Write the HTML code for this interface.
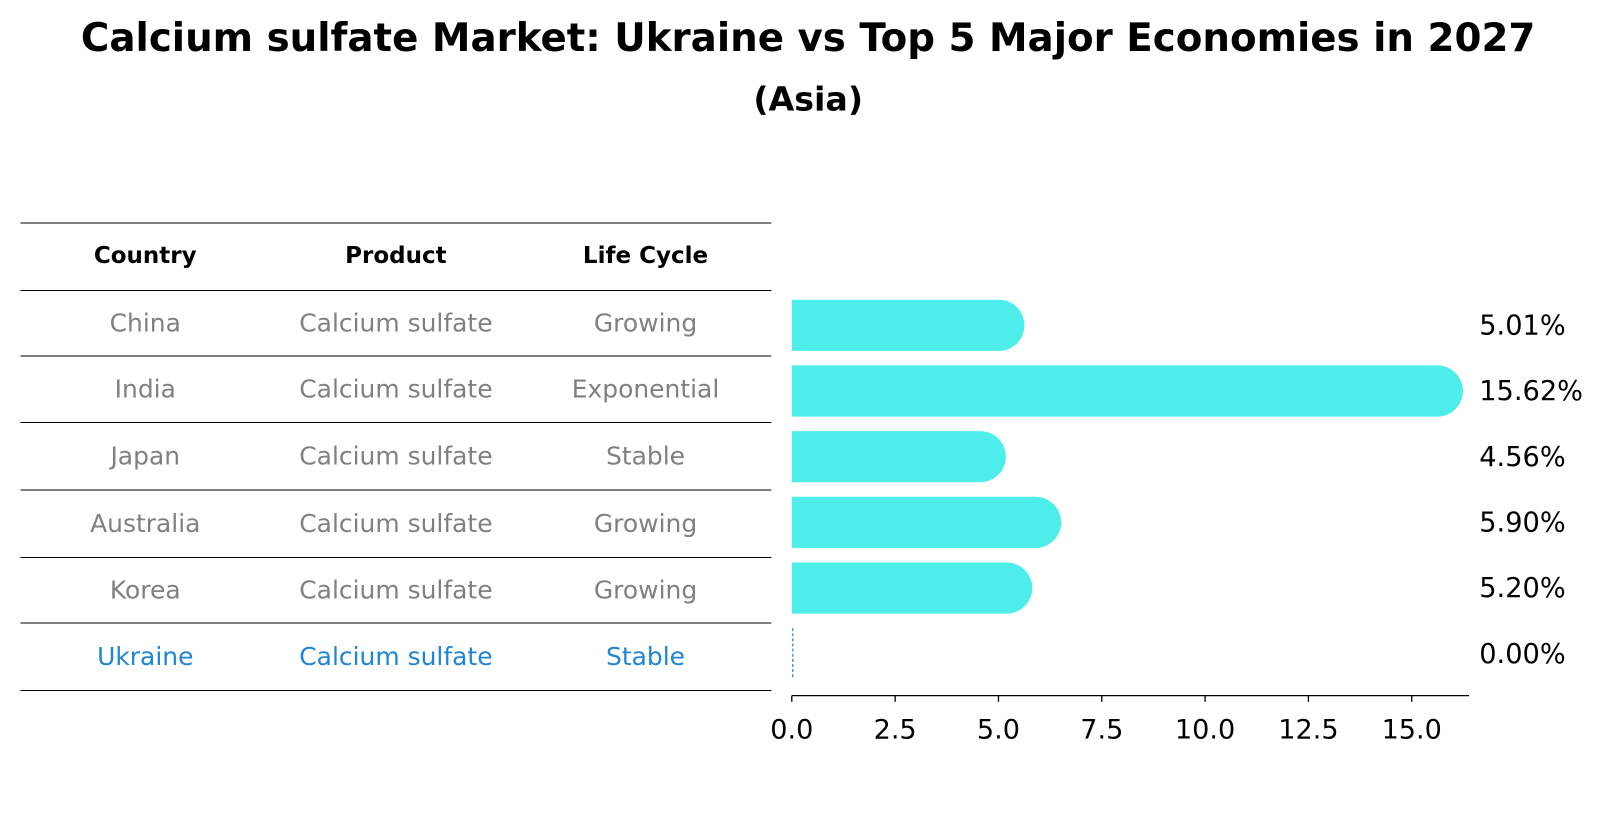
<!DOCTYPE html>
<html><head><meta charset="utf-8"><style>
body{margin:0;background:#fff;font-family:"DejaVu Sans","Liberation Sans",sans-serif}
</style></head><body>
<svg width="1604" height="823" xmlns="http://www.w3.org/2000/svg" font-family="DejaVu Sans, Liberation Sans, sans-serif">
<g id="root" transform="scale(1.023)">
<text x="790" y="50" text-anchor="middle" font-size="37.9" font-weight="bold">Calcium sulfate Market: Ukraine vs Top 5 Major Economies in 2027</text>
<text x="790" y="108" text-anchor="middle" font-size="32.5" font-weight="bold">(Asia)</text>
<g id="table"></g>
<g id="bars"></g>
</g>
</svg>
<script>
const countries=["China","India","Japan","Australia","Korea","Ukraine"];
const products=["Calcium sulfate","Calcium sulfate","Calcium sulfate","Calcium sulfate","Calcium sulfate","Calcium sulfate"];
const lifeCycles=["Growing","Exponential","Stable","Growing","Growing","Stable"];
const values=[5.01,15.62,4.56,5.90,5.20,0.00];
const xTicks=[0,2.5,5,7.5,10,12.5,15];
const NS="http://www.w3.org/2000/svg";
function mk(tag,attrs,parent,text){const e=document.createElementNS(NS,tag);for(const k in attrs)e.setAttribute(k,attrs[k]);if(text!==undefined)e.textContent=text;parent.appendChild(e);return e;}
const tbl=document.getElementById('table');
const lineYs=[218,284,348,413,479,545,609,675];
lineYs.forEach((y,i)=>{const l=mk('line',{x1:20,x2:754,y1:y,y2:y,stroke:'#000','stroke-width':1},tbl);

});
const colX=[142,387,631];
["Country","Product","Life Cycle"].forEach((h,i)=>{const t=mk('text',{x:colX[i],y:257,'text-anchor':'middle','font-size':22.5,'font-weight':'bold'},tbl,h);

});
countries.forEach((c,r)=>{const y=(lineYs[r+1]+lineYs[r+2])/2+8;const col=c==="Ukraine"?"#1f85d6":"#808080";
[c,products[r],lifeCycles[r]].forEach((v,i)=>{const t=mk('text',{x:colX[i],y:y,'text-anchor':'middle','font-size':24.4,fill:col},tbl,v);

});});
const g=document.getElementById('bars');
const x0=774,pxPerUnit=40.4;
const xs=v=>x0+v*pxPerUnit;
const rowY=i=>318+i*64.2;
const bh=50;
values.forEach((v,i)=>{const cy=rowY(i);const r=bh/2;
if(v>0){const xe=xs(v);
const p=mk('path',{d:`M${x0},${cy-r} L${xe},${cy-r} A${r},${r} 0 0 1 ${xe},${cy+r} L${x0},${cy+r} Z`,fill:'#4deee9'},g);

}
else{const l=mk('line',{x1:x0+1,x2:x0+1,y1:cy-r,y2:cy+r,stroke:'#1f85d6','stroke-width':1.2,'stroke-dasharray':'3,2'},g);

}
const t=mk('text',{x:1446,y:cy+9,'font-size':26.6},g,v.toFixed(2)+'%');

});
const ax=mk('line',{x1:x0,x2:1436,y1:680,y2:680,stroke:'#000','stroke-width':1.3},g);


xTicks.forEach(v=>{const tk=mk('line',{x1:xs(v),x2:xs(v),y1:680,y2:686,stroke:'#000','stroke-width':1.3},g);


const t=mk('text',{x:xs(v),y:722,'text-anchor':'middle','font-size':26.5},g,v.toFixed(1));

});
</script>
</body></html>
